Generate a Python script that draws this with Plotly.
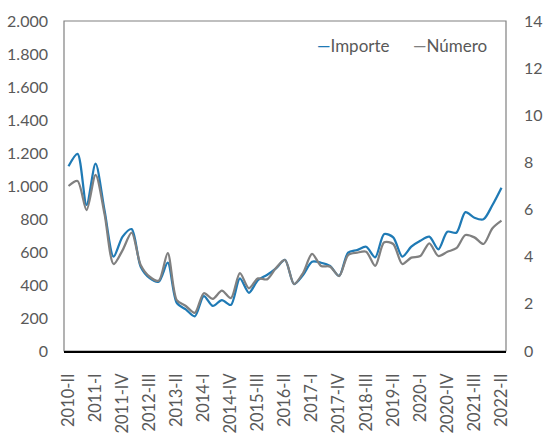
import plotly.graph_objects as go

roman = ["I", "II", "III", "IV"]
quarters = []
for y in range(2010, 2023):
    for q in range(4):
        if (y == 2010 and q == 0) or (y == 2022 and q > 1):
            continue
        quarters.append(f"{y}-{roman[q]}")

importe = [1120, 1195, 885, 1135, 850, 572, 693, 739, 511, 442,
           420, 535, 291, 252, 210, 333, 273, 309, 279, 440,
           353, 430, 461, 501, 552, 406, 461, 541, 535, 515,
           455, 596, 612, 632, 568, 709, 689, 572, 632, 668,
           693, 616, 723, 717, 842, 808, 798, 885, 990]

numero = [7.0, 7.21, 5.98, 7.47, 5.8, 3.69, 4.28, 5.02, 3.65, 3.15,
          2.98, 4.15, 2.16, 1.91, 1.62, 2.45, 2.21, 2.56, 2.24, 3.30,
          2.66, 3.08, 3.04, 3.52, 3.86, 2.84, 3.31, 4.12, 3.61, 3.58,
          3.18, 4.07, 4.17, 4.21, 3.61, 4.61, 4.54, 3.69, 3.96, 4.03,
          4.57, 4.03, 4.21, 4.36, 4.92, 4.82, 4.54, 5.21, 5.53]

tick_labels = quarters[::3]

BLUE = "#1f7ab5"
GRAY = "#808080"
TXT = "#595959"
FONT = "Lato"

fig = go.Figure()
fig.add_trace(go.Scatter(x=quarters, y=importe, name="Importe", mode="lines",
                         line=dict(color=BLUE, width=2.25, shape="spline", smoothing=0.8)))
fig.add_trace(go.Scatter(x=quarters, y=numero, name="Número", mode="lines", yaxis="y2",
                         line=dict(color=GRAY, width=2.25, shape="spline", smoothing=0.8)))

fig.update_layout(
    width=543, height=439,
    margin=dict(l=64, r=37, t=21, b=88, autoexpand=False),
    paper_bgcolor="white", plot_bgcolor="white",
    separators=",.",
    showlegend=False,
    font=dict(family=FONT, size=16, color=TXT),
    xaxis=dict(type="category", categoryorder="array", categoryarray=quarters,
               tickmode="array", tickvals=tick_labels, ticktext=tick_labels,
               tickangle=-90, showgrid=False, zeroline=False, automargin=False,
               showline=True, linecolor="black", linewidth=1.5,
               ticks="", ticklabelstandoff=14,
               range=[-0.5, len(quarters) - 0.5],
               tickfont=dict(family=FONT, size=16.5, color=TXT)),
    yaxis=dict(range=[0, 2000], dtick=200, tickformat=",d", showgrid=False,
               zeroline=False, showline=False, ticks="", ticklabelstandoff=15,
               automargin=False,
               tickfont=dict(family=FONT, size=16, color=TXT)),
    yaxis2=dict(range=[0, 14], dtick=2, overlaying="y", side="right",
                showgrid=False, zeroline=False, showline=False, ticks="",
                ticklabelstandoff=17, automargin=False,
                tickfont=dict(family=FONT, size=16, color=TXT)),
    shapes=[dict(type="rect", xref="paper", yref="paper", x0=0, x1=1, y0=0, y1=1,
                 line=dict(color=GRAY, width=1.2), layer="below")],
    annotations=[
        dict(xref="paper", yref="paper", x=0.568, y=0.927, xanchor="left", yanchor="middle",
             showarrow=False,
             text=f"<span style='color:{BLUE}'>—</span>Importe",
             font=dict(family=FONT, size=17, color=TXT)),
        dict(xref="paper", yref="paper", x=0.785, y=0.927, xanchor="left", yanchor="middle",
             showarrow=False,
             text=f"<span style='color:{GRAY}'>—</span>Número",
             font=dict(family=FONT, size=17, color=TXT)),
    ],
)

fig.write_html("out.html")
